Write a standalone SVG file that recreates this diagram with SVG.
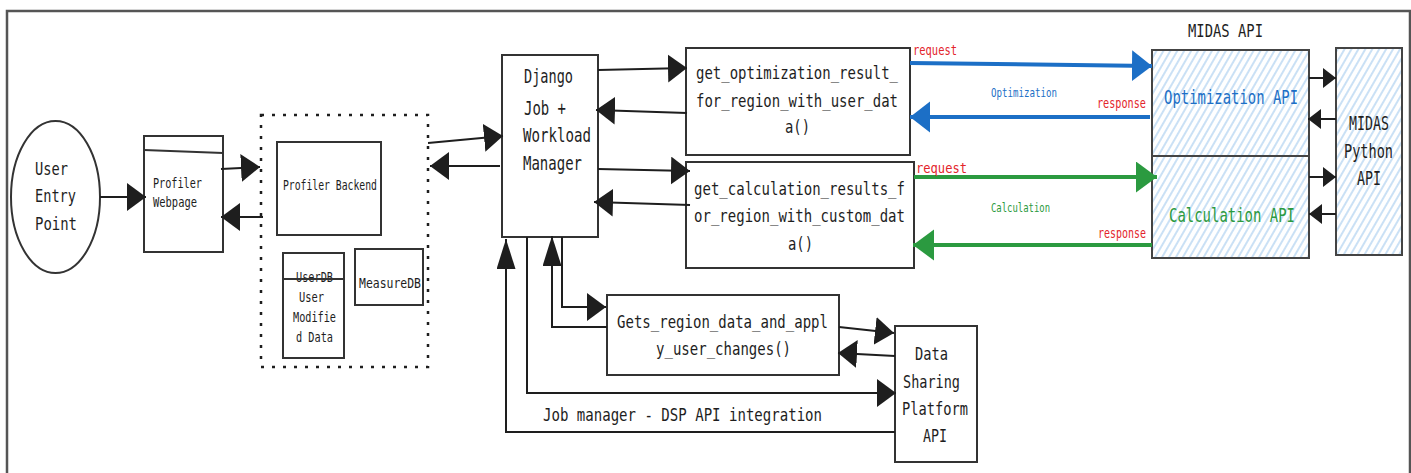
<svg xmlns="http://www.w3.org/2000/svg" width="1411" height="473" viewBox="0 0 1411 473">
<defs>
<pattern id="hatch" patternUnits="userSpaceOnUse" width="6" height="6" patternTransform="rotate(30)">
<rect width="6" height="6" fill="#ffffff"/>
<line x1="1" y1="0" x2="1" y2="6" stroke="#9fc8ee" stroke-width="1.1"/>
</pattern>
<marker id="ah" markerUnits="userSpaceOnUse" markerWidth="20" markerHeight="29" refX="19" refY="14" orient="auto" viewBox="0 0 20 29"><path d="M0,0 L19,14 L0,28 Z" fill="#1e1e1e"/></marker>
<marker id="ahv" markerUnits="userSpaceOnUse" markerWidth="31" markerHeight="20" refX="30" refY="9.5" orient="auto" viewBox="0 0 31 20"><path d="M0,0 L30,9.5 L0,19 Z" fill="#1e1e1e"/></marker>
<marker id="ahs" markerUnits="userSpaceOnUse" markerWidth="14" markerHeight="21" refX="13" refY="10" orient="auto" viewBox="0 0 14 21"><path d="M0,0 L13,10 L0,20 Z" fill="#1e1e1e"/></marker>
<marker id="ahb" markerUnits="userSpaceOnUse" markerWidth="21" markerHeight="32" refX="20" refY="15.5" orient="auto" viewBox="0 0 21 32"><path d="M0,0 L20,15.5 L0,31 Z" fill="#1c6fc6"/></marker>
<marker id="ahg" markerUnits="userSpaceOnUse" markerWidth="22" markerHeight="32" refX="21" refY="15.5" orient="auto" viewBox="0 0 22 32"><path d="M0,0 L21,15.5 L0,31 Z" fill="#2b9a40"/></marker>
</defs>
<style>
.box{fill:#ffffff;stroke:#333333;stroke-width:2}
.hbox{fill:url(#hatch);stroke:#444444;stroke-width:2}
.t{font-family:"DejaVu Sans Mono","Liberation Mono",monospace;fill:#1e1e1e}
.big{font-size:18px}
.dj{font-size:19px}
.api{font-size:20px}
.sm{font-size:14.5px}
.lbl{font-size:14px}
.mini{font-size:13px}
.red{fill:#e3242b}
.blue{fill:#1c6fc6}
.green{fill:#2b9a40}
.c{fill:none;stroke:#1e1e1e;stroke-width:2}
.cb{fill:none;stroke:#1c6fc6;stroke-width:4}
.cg{fill:none;stroke:#2b9a40;stroke-width:4}
</style>
<rect width="1411" height="473" fill="#ffffff"/>
<path d="M7,480 V11 H1410 V480" fill="none" stroke="#555555" stroke-width="2.5"/>

<g id="user-entry">
<ellipse cx="55.5" cy="197" rx="44.5" ry="76" fill="#ffffff" stroke="#333333" stroke-width="2"/>
<text class="t big" x="35" y="175" textLength="33" lengthAdjust="spacingAndGlyphs">User</text>
<text class="t big" x="35" y="202" textLength="41" lengthAdjust="spacingAndGlyphs">Entry</text>
<text class="t big" x="35" y="230" textLength="42" lengthAdjust="spacingAndGlyphs">Point</text>
</g>

<g id="profiler-webpage">
<rect class="box" x="144" y="136" width="79" height="116"/>
<path d="M144,150 L223,153" stroke="#333333" stroke-width="2"/>
<text class="t sm" x="153" y="188" textLength="49" lengthAdjust="spacingAndGlyphs">Profiler</text>
<text class="t sm" x="153" y="207" textLength="44" lengthAdjust="spacingAndGlyphs">Webpage</text>
</g>

<g id="profiler-group">
<rect x="261" y="115" width="167" height="252" fill="none" stroke="#1e1e1e" stroke-width="2.5" stroke-dasharray="3 8"/>
</g>

<g id="profiler-backend">
<rect class="box" x="277" y="142" width="104" height="93"/>
<text class="t sm" x="283" y="190" textLength="94" lengthAdjust="spacingAndGlyphs">Profiler Backend</text>
</g>

<g id="userdb">
<rect class="box" x="283" y="253" width="61" height="105"/>
<text class="t sm" x="296" y="282" textLength="37" lengthAdjust="spacingAndGlyphs">UserDB</text>
<path d="M283,279 L344,279" stroke="#333333" stroke-width="2"/>
<text class="t sm" x="299" y="302" textLength="25" lengthAdjust="spacingAndGlyphs">User</text>
<text class="t sm" x="293" y="322" textLength="43" lengthAdjust="spacingAndGlyphs">Modifie</text>
<text class="t sm" x="296" y="342" textLength="37" lengthAdjust="spacingAndGlyphs">d Data</text>
</g>

<g id="measuredb">
<rect class="box" x="355" y="249" width="68" height="56"/>
<text class="t sm" x="359" y="288" textLength="62" lengthAdjust="spacingAndGlyphs">MeasureDB</text>
</g>

<g id="django">
<rect class="box" x="502" y="55" width="96" height="182"/>
<text class="t dj" x="524" y="83" textLength="49" lengthAdjust="spacingAndGlyphs">Django</text>
<text class="t dj" x="524" y="115" textLength="42" lengthAdjust="spacingAndGlyphs">Job +</text>
<text class="t dj" x="523" y="142" textLength="68" lengthAdjust="spacingAndGlyphs">Workload</text>
<text class="t dj" x="523" y="170" textLength="59" lengthAdjust="spacingAndGlyphs">Manager</text>
</g>

<g id="get-optimization">
<rect class="box" x="686" y="48" width="224" height="107"/>
<text class="t big" x="696" y="79" textLength="202" lengthAdjust="spacingAndGlyphs">get_optimization_result_</text>
<text class="t big" x="696" y="107" textLength="202" lengthAdjust="spacingAndGlyphs">for_region_with_user_dat</text>
<text class="t big" x="785" y="133" textLength="25" lengthAdjust="spacingAndGlyphs">a()</text>
</g>

<g id="get-calculation">
<rect class="box" x="686" y="162" width="228" height="106"/>
<text class="t big" x="694" y="195" textLength="211" lengthAdjust="spacingAndGlyphs">get_calculation_results_f</text>
<text class="t big" x="694" y="222" textLength="211" lengthAdjust="spacingAndGlyphs">or_region_with_custom_dat</text>
<text class="t big" x="788" y="250" textLength="25" lengthAdjust="spacingAndGlyphs">a()</text>
</g>

<g id="midas-api">
<text class="t big" x="1188" y="37" textLength="75" lengthAdjust="spacingAndGlyphs">MIDAS API</text>
</g>

<g id="optimization-api">
<rect class="hbox" x="1152" y="50" width="157" height="106"/>
<text class="t api blue" x="1164" y="104" textLength="134" lengthAdjust="spacingAndGlyphs">Optimization API</text>
</g>

<g id="calculation-api">
<rect class="hbox" x="1152" y="156" width="157" height="102"/>
<text class="t api green" x="1169" y="222" textLength="126" lengthAdjust="spacingAndGlyphs">Calculation API</text>
</g>

<g id="midas-python-api">
<rect class="hbox" x="1336" y="48" width="66" height="207"/>
<text class="t dj" x="1349" y="130" textLength="40" lengthAdjust="spacingAndGlyphs">MIDAS</text>
<text class="t dj" x="1344" y="158" textLength="49" lengthAdjust="spacingAndGlyphs">Python</text>
<text class="t dj" x="1357" y="185" textLength="24" lengthAdjust="spacingAndGlyphs">API</text>
</g>

<g id="gets-region">
<rect class="box" x="607" y="295" width="232" height="80"/>
<text class="t big" x="617" y="328" textLength="211" lengthAdjust="spacingAndGlyphs">Gets_region_data_and_appl</text>
<text class="t big" x="656" y="355" textLength="135" lengthAdjust="spacingAndGlyphs">y_user_changes()</text>
</g>

<g id="dsp-api">
<rect class="box" x="895" y="326" width="82" height="136"/>
<text class="t big" x="915" y="360" textLength="33" lengthAdjust="spacingAndGlyphs">Data</text>
<text class="t big" x="903" y="388" textLength="57" lengthAdjust="spacingAndGlyphs">Sharing</text>
<text class="t big" x="902" y="415" textLength="66" lengthAdjust="spacingAndGlyphs">Platform</text>
<text class="t big" x="923" y="442" textLength="24" lengthAdjust="spacingAndGlyphs">API</text>
</g>

<g id="connectors">
<path class="c" d="M100,197 L146,197" marker-end="url(#ah)"/>
<path class="c" d="M221,169 L260,167" marker-end="url(#ah)"/>
<path class="c" d="M263,217 L221,217" marker-end="url(#ah)"/>
<path class="c" d="M428,143 L503,136" marker-end="url(#ah)"/>
<path class="c" d="M500,166 L430,166" marker-end="url(#ah)"/>
<path class="c" d="M598,70 L687,68" marker-end="url(#ah)"/>
<path class="c" d="M687,113 L596,110" marker-end="url(#ah)"/>
<path class="c" d="M598,169 L690,171" marker-end="url(#ah)"/>
<path class="c" d="M690,205 L594,202" marker-end="url(#ah)"/>
<path class="cb" d="M910,63 L1152,66" marker-end="url(#ahb)"/>
<path class="cb" d="M1150,117 L910,117" marker-end="url(#ahb)"/>
<path class="cg" d="M914,177 L1157,177" marker-end="url(#ahg)"/>
<path class="cg" d="M1152,245 L913,245" marker-end="url(#ahg)"/>
<path class="c" d="M1309,78 L1336,78" marker-end="url(#ahs)"/>
<path class="c" d="M1336,119 L1308,119" marker-end="url(#ahs)"/>
<path class="c" d="M1309,177 L1336,177" marker-end="url(#ahs)"/>
<path class="c" d="M1336,214 L1309,214" marker-end="url(#ahs)"/>
<path class="c" d="M895,432 L506,432 L506,239" marker-end="url(#ahv)"/>
<path class="c" d="M527,237 L527,393 L896,393" marker-end="url(#ah)"/>
<path class="c" d="M607,327 L552,327 L552,236" marker-end="url(#ahv)"/>
<path class="c" d="M562,237 L562,307 L606,307" marker-end="url(#ah)"/>
<path class="c" d="M839,327 L894,333" marker-end="url(#ah)"/>
<path class="c" d="M895,356 L838,353" marker-end="url(#ah)"/>
<text class="t lbl red" x="913" y="55" textLength="44" lengthAdjust="spacingAndGlyphs">request</text>
<text class="t mini blue" x="991" y="97" textLength="66" lengthAdjust="spacingAndGlyphs">Optimization</text>
<text class="t lbl red" x="1097" y="108" textLength="49" lengthAdjust="spacingAndGlyphs">response</text>
<text class="t lbl red" x="916" y="173" font-size="15" textLength="51" lengthAdjust="spacingAndGlyphs">request</text>
<text class="t mini green" x="991" y="212" textLength="59" lengthAdjust="spacingAndGlyphs">Calculation</text>
<text class="t lbl red" x="1098" y="238" textLength="48" lengthAdjust="spacingAndGlyphs">response</text>
<text class="t big" x="543" y="421" textLength="279" lengthAdjust="spacingAndGlyphs">Job manager - DSP API integration</text>
</g>
</svg>
